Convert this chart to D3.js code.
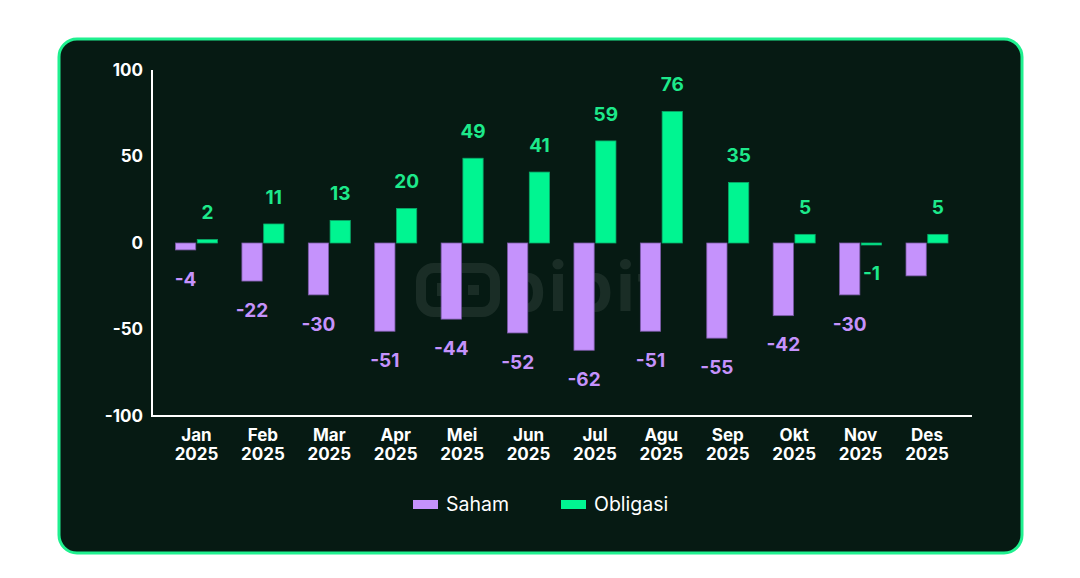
<!DOCTYPE html>
<html>
<head>
<meta charset="utf-8">
<script src="https://cdn.jsdelivr.net/npm/d3@7"></script>
<style>
  html, body { margin: 0; padding: 0; background: #ffffff; }
  svg { display: block; }
  text { font-family: Inter, "Noto Sans", sans-serif; }
</style>
</head>
<body>
<svg id="chart" width="1080" height="578"></svg>
<script>
const months = ["Jan", "Feb", "Mar", "Apr", "Mei", "Jun", "Jul", "Agu", "Sep", "Okt", "Nov", "Des"];
const year = "2025";
const series = ["Saham", "Obligasi"];
const saham = [-4, -22, -30, -51, -44, -52, -62, -51, -55, -42, -30, -19];
const obligasi = [2, 11, 13, 20, 49, 41, 59, 76, 35, 5, -1, 5];
const sahamLabelShown = [true, true, true, true, true, true, true, true, true, true, true, false];
const yTicks = [-100, -50, 0, 50, 100];

const colors = { Saham: "#c592fc", Obligasi: "#00f591" };
const labelColors = { Saham: "#c592fc", Obligasi: "#1de98b" };

const svg = d3.select("#chart");

// card
svg.append("rect")
  .attr("x", 59).attr("y", 39).attr("width", 963).attr("height", 514)
  .attr("rx", 18).attr("ry", 18)
  .attr("fill", "#061a13").attr("stroke", "#1ff08f").attr("stroke-width", 3);

const x = d3.scalePoint().domain(months).range([196.5, 927]);
const xSub = d3.scaleBand().domain(series).range([-21, 21]).paddingInner(0.07);
const y = d3.scaleLinear().domain([-100, 100]).range([416, 70]);

// watermark
const wmColor = "#aab5b0";
const wm = svg.append("g").attr("opacity", 0.12);
wm.append("rect").attr("x", 421).attr("y", 268).attr("width", 74).attr("height", 44).attr("rx", 13)
  .attr("fill", "none").attr("stroke", wmColor).attr("stroke-width", 10);
wm.append("rect").attr("x", 437).attr("y", 283).attr("width", 6).attr("height", 13).attr("fill", wmColor);
wm.append("rect").attr("x", 468).attr("y", 285).attr("width", 11).attr("height", 10).attr("fill", wmColor);
wm.append("text").attr("x", 503).attr("y", 311)
  .attr("font-size", 68).attr("font-weight", 700).attr("letter-spacing", 3)
  .attr("fill", wmColor).text("bibit");

// axes lines
svg.append("line").attr("x1", 152).attr("x2", 152).attr("y1", y(100)).attr("y2", y(-100) + 1)
  .attr("stroke", "#ffffff").attr("stroke-width", 2);
svg.append("line").attr("x1", 151).attr("x2", 972).attr("y1", y(-100)).attr("y2", y(-100))
  .attr("stroke", "#ffffff").attr("stroke-width", 2);

// y ticks
svg.append("g").selectAll("text").data(yTicks).join("text")
  .attr("x", 143).attr("y", d => y(d)).attr("dy", "0.35em")
  .attr("text-anchor", "end").attr("font-size", 17).attr("font-weight", 700)
  .attr("fill", "#ffffff").text(d => d);

// x labels
const xl = svg.append("g").selectAll("text").data(months).join("text")
  .attr("x", d => x(d)).attr("y", 441)
  .attr("text-anchor", "middle").attr("font-size", 17).attr("font-weight", 700)
  .attr("fill", "#ffffff");
xl.append("tspan").attr("x", d => x(d)).attr("dy", 0).text(d => d);
xl.append("tspan").attr("x", d => x(d)).attr("dy", 19).text(year);

// bars
const data = [];
months.forEach((m, i) => {
  data.push({ m, s: "Saham", v: saham[i], show: sahamLabelShown[i] });
  data.push({ m, s: "Obligasi", v: obligasi[i], show: true });
});

svg.append("g").selectAll("rect").data(data).join("rect")
  .attr("x", d => x(d.m) + xSub(d.s))
  .attr("width", xSub.bandwidth())
  .attr("y", d => Math.min(y(d.v), y(0)))
  .attr("height", d => Math.max(Math.abs(y(d.v) - y(0)), 2))
  .attr("fill", d => colors[d.s])
  .attr("stroke", d => d.s === "Saham" ? "#7a5aa6" : "#0aa868")
  .attr("stroke-width", 0.8);

svg.append("g").selectAll("text").data(data.filter(d => d.show)).join("text")
  .attr("x", d => x(d.m) + xSub(d.s) + xSub.bandwidth() / 2)
  .attr("y", d => d.v >= 0 ? Math.min(y(d.v), y(0)) - 27 : y(d.v) + 29)
  .attr("dy", "0.35em")
  .attr("text-anchor", "middle").attr("font-size", 19).attr("font-weight", 700)
  .attr("fill", d => labelColors[d.s])
  .text(d => d.v);

// legend
const legend = [
  { s: "Saham", x: 413 },
  { s: "Obligasi", x: 561 }
];
const lg = svg.append("g").selectAll("g").data(legend).join("g");
lg.append("rect").attr("x", d => d.x).attr("y", 500).attr("width", 25).attr("height", 9)
  .attr("fill", d => colors[d.s]);
lg.append("text").attr("x", d => d.x + 33).attr("y", 504.5).attr("dy", "0.35em")
  .attr("font-size", 19.5).attr("fill", "#ffffff").text(d => d.s);
</script>
</body>
</html>
